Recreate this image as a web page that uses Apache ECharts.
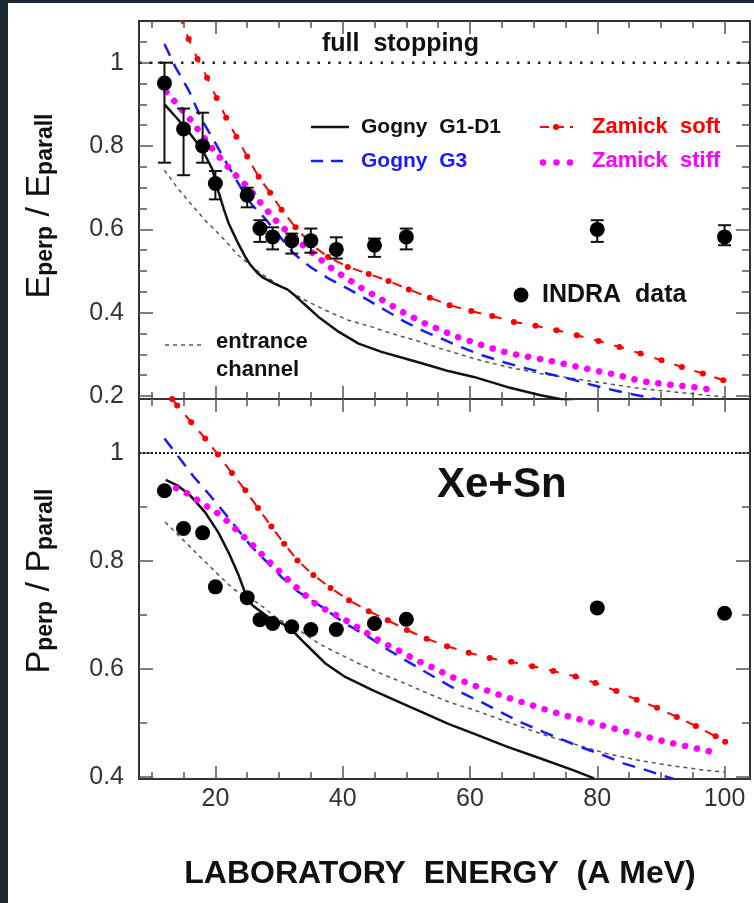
<!DOCTYPE html>
<html>
<head>
<meta charset="utf-8">
<script src="https://cdn.jsdelivr.net/npm/echarts@6/dist/echarts.min.js"></script>
<style>
html,body{margin:0;padding:0;background:#1f2935;width:754px;height:903px;overflow:hidden;}
#chart{position:absolute;left:8px;top:3px;width:746px;height:900px;}
</style>
</head>
<body>
<div id="chart"></div>
<script>
// INDRA data (Xe+Sn)
var energy = [12,15,18,20,25,27,29,32,35,39,45,50,80,100];
var eRatio = [0.951,0.841,0.80,0.71,0.682,0.602,0.582,0.573,0.573,0.552,0.562,0.582,0.60,0.582];
var eLow   = [0.76,0.73,0.76,0.672,0.653,0.57,0.552,0.542,0.544,0.53,0.534,0.552,0.57,0.562];
var eHigh  = [1.0,0.89,0.88,0.74,0.70,0.622,0.605,0.59,0.602,0.581,0.578,0.602,0.622,0.61];
var pRatio = [0.93,0.86,0.852,0.752,0.732,0.691,0.684,0.678,0.673,0.673,0.684,0.692,0.713,0.703];

// E_perp / E_parall curves
var gognyD1E = [[12,0.9],[14,0.866],[16,0.83],[18,0.79],[19.5,0.745],[20.5,0.69],[21.3,0.65],[22.1,0.614],[23.4,0.572],[24.7,0.534],[25.5,0.515],[26.5,0.497],[27.5,0.484],[29.5,0.468],[31.3,0.456],[32.6,0.44],[34.4,0.415],[36.2,0.39],[39.4,0.354],[42.5,0.326],[46.1,0.306],[49.8,0.29],[53.5,0.274],[56.6,0.26],[60.6,0.246],[65.8,0.222],[71.1,0.202],[76.5,0.186]];
var gognyG3E = [[12,1.045],[13.7,0.99],[15.8,0.934],[17.9,0.862],[20,0.807],[22.1,0.75],[24,0.70],[25.7,0.66],[27.8,0.626],[30,0.585],[32.3,0.542],[34.9,0.51],[37.8,0.482],[40.8,0.458],[43.8,0.432],[46.7,0.406],[49.8,0.378],[53,0.354],[55.8,0.336],[58.5,0.318],[61.9,0.298],[65.6,0.28],[68.7,0.267],[72.4,0.253],[75.5,0.242],[78.9,0.228],[82.6,0.214],[85.7,0.204],[89.5,0.192]];
var zamickSoftE = [[14.3,1.115],[15.8,1.057],[17.2,1.009],[18.7,0.964],[20.2,0.915],[21.7,0.868],[23.3,0.822],[25,0.775],[26.8,0.726],[28.6,0.688],[30.4,0.647],[32.6,0.605],[35.2,0.562],[37.7,0.534],[40.8,0.51],[44.1,0.493],[47.2,0.476],[50.4,0.456],[53.7,0.436],[56.8,0.418],[60.2,0.404],[63.5,0.392],[66.9,0.378],[70.3,0.369],[73.6,0.358],[76.8,0.346],[80.2,0.332],[83.5,0.318],[86.8,0.302],[90.1,0.286],[93.3,0.27],[96.6,0.254],[99.8,0.238]];
var zamickStiffE = [[12.3,0.93],[14,0.9],[16,0.865],[17.5,0.835],[19.8,0.788],[22.9,0.734],[25.2,0.70],[27.3,0.66],[29.9,0.614],[32.5,0.578],[35.7,0.538],[38.8,0.5],[40.4,0.485],[43.5,0.454],[45.2,0.44],[48.5,0.41],[50.2,0.395],[53.5,0.37],[55.6,0.358],[57.2,0.346],[60,0.332],[62.7,0.318],[66.4,0.302],[72.1,0.286],[75.8,0.274],[79.4,0.262],[83.4,0.25],[86.8,0.236],[91,0.228],[94.9,0.222],[98.5,0.214]];
var entranceE = [[12,0.742],[14,0.7],[16,0.664],[18.4,0.622],[21,0.582],[23.6,0.538],[26.8,0.498],[30.4,0.462],[34.1,0.43],[37.3,0.406],[40.9,0.382],[44.6,0.366],[47.7,0.35],[51.4,0.334],[55.2,0.315],[60.6,0.29],[65.8,0.27],[71.1,0.254],[76.3,0.242],[81.5,0.23],[86.8,0.218],[92,0.21],[97.2,0.202],[100,0.198]];

// P_perp / P_parall curves
var gognyD1P = [[12.2,0.95],[14,0.94],[16,0.922],[18.4,0.89],[20.5,0.852],[22.1,0.815],[23.6,0.775],[24.7,0.74],[25.8,0.718],[28.3,0.696],[30.5,0.684],[32.2,0.67],[34.1,0.647],[37.3,0.61],[40.4,0.585],[44.6,0.561],[48.8,0.539],[53,0.517],[56.6,0.498],[60.6,0.48],[65.8,0.456],[71.1,0.434],[76.3,0.412],[79.5,0.397]];
var gognyG3P = [[12,1.027],[14.2,0.993],[16.6,0.956],[18.9,0.925],[21.5,0.888],[23.6,0.857],[25.7,0.826],[28.1,0.798],[30.4,0.77],[33,0.743],[36.7,0.715],[40.4,0.684],[44.1,0.659],[47.2,0.635],[50.3,0.613],[53.5,0.591],[56.6,0.57],[59,0.554],[62.2,0.536],[65.3,0.517],[68.4,0.499],[71.6,0.483],[74.7,0.468],[77.9,0.453],[81,0.44],[84.1,0.425],[87.8,0.412],[92,0.396]];
var zamickSoftP = [[13.2,1.1],[14,1.088],[16.2,1.057],[18.4,1.027],[20.4,0.997],[22.6,0.963],[24.7,0.931],[26.7,0.898],[28.8,0.864],[30.8,0.832],[32.9,0.801],[35.4,0.774],[38.1,0.75],[41,0.727],[44.1,0.707],[47.1,0.69],[50.1,0.672],[53.2,0.656],[56.4,0.642],[59.8,0.63],[63.1,0.62],[66.5,0.613],[69.8,0.605],[73.1,0.596],[76.6,0.586],[79.7,0.574],[83,0.559],[86.2,0.543],[89.4,0.528],[92.5,0.511],[95.5,0.494],[98.6,0.475],[100.1,0.465]];
var zamickStiffP = [[13.8,0.935],[16.1,0.922],[17.6,0.909],[19.2,0.897],[20.8,0.885],[22.3,0.869],[23.6,0.854],[25.2,0.837],[26.5,0.822],[27.8,0.806],[29.3,0.789],[30.7,0.774],[32,0.758],[33.6,0.743],[34.9,0.727],[36.5,0.715],[38.3,0.704],[41.4,0.684],[44.8,0.659],[46.4,0.648],[49.8,0.628],[51.4,0.617],[55,0.598],[56.9,0.586],[60.3,0.571],[62.2,0.562],[65.8,0.547],[69.4,0.534],[73.1,0.52],[76.8,0.508],[80.5,0.496],[84.1,0.485],[87.8,0.474],[91.5,0.463],[95.1,0.454],[99.2,0.443]];
var entranceP = [[12.1,0.872],[14.75,0.841],[17.4,0.81],[20,0.78],[22.8,0.748],[26.8,0.721],[29.9,0.692],[33.1,0.672],[36.2,0.647],[39.4,0.628],[42.5,0.61],[46.1,0.591],[49.8,0.573],[53.5,0.554],[56.6,0.539],[60.6,0.524],[65.8,0.502],[71.1,0.48],[76.3,0.461],[81.5,0.443],[86.8,0.43],[92,0.42],[97.2,0.412],[100,0.409]];

var fullStop = [[8,1],[104,1]];

// ticks
var xMajor = [20,40,60,80,100];
var xMinor = [10,15,25,30,35,45,50,55,65,70,75,85,90,95];
var yMajorE = [0.2,0.4,0.6,0.8,1];
var yMinorE = [0.25,0.3,0.35,0.45,0.5,0.55,0.65,0.7,0.75,0.85,0.9,0.95,1.05];
var yMajorP = [0.4,0.6,0.8,1];
var yMinorP = [0.5,0.7,0.9];

var FONT = 'Liberation Sans, Arial, Helvetica, sans-serif';
var ymin = [0.193, 0.396];

function ax(dim, grid, pos, ticks, len, labels){
    return {
        type:'value', gridIndex:grid, position:pos,
        min: dim=='x' ? 8 : ymin[grid],
        max: dim=='x' ? 104 : 1.1,
        axisLine:{show:false},
        splitLine:{show:false},
        axisTick:{show:true, inside:true, length:len, customValues:ticks, lineStyle:{color:'#555', width:1.5}},
        axisLabel:{show:!!labels, customValues:ticks, color:'#333', fontSize:25, fontFamily:FONT,
                   margin: dim=='x' ? 8 : 15}
    };
}

var xAxes = [], yAxes = [];
for(var g=0; g<2; g++){
    xAxes.push(ax('x', g, 'bottom', xMajor, 13, g==1));
    xAxes.push(ax('x', g, 'bottom', xMinor, 7, false));
    xAxes.push(ax('x', g, 'top', xMajor, 13, false));
    xAxes.push(ax('x', g, 'top', xMinor, 7, false));
    yAxes.push(ax('y', g, 'left', g==0 ? yMajorE : yMajorP, 14, true));
    yAxes.push(ax('y', g, 'left', g==0 ? yMinorE : yMinorP, 8, false));
    yAxes.push(ax('y', g, 'right', g==0 ? yMajorE : yMajorP, 14, false));
    yAxes.push(ax('y', g, 'right', g==0 ? yMinorE : yMinorP, 8, false));
}

function line(grid, data, color, width, type, z){
    return {
        type:'line', xAxisIndex:grid*4, yAxisIndex:grid*4, data:data,
        showSymbol:false, symbol:'none', z:z||2, silent:true,
        lineStyle:{color:color, width:width, type:type}
    };
}
function redLine(grid, data){
    var s = line(grid, data, '#ff0000', 2, [10,11], 3);
    s.symbol = 'circle'; s.showSymbol = true; s.showAllSymbol = true; s.symbolSize = 6;
    s.itemStyle = {color:'#ff0000'};
    return s;
}
function dotLine(grid, data){
    var s = line(grid, data, '#ff00ff', 6.5, [0.1,12], 3);
    s.lineStyle.cap = 'round';
    return s;
}
function points(grid, y){
    return {
        type:'scatter', xAxisIndex:grid*4, yAxisIndex:grid*4, symbolSize:15, z:6, silent:true,
        itemStyle:{color:'#000', opacity:1},
        data: energy.map(function(x,i){ return [x, y[i]]; })
    };
}

var errBars = {
    type:'custom', xAxisIndex:0, yAxisIndex:0, z:5, silent:true,
    data: energy.map(function(x,i){ return [x, eLow[i], eHigh[i]]; }),
    encode:{x:0, y:[1,2]},
    renderItem:function(params, api){
        var lo = api.coord([api.value(0), api.value(1)]);
        var hi = api.coord([api.value(0), api.value(2)]);
        var w = 6.5;
        var st = {stroke:'#111', lineWidth:2};
        return {type:'group', children:[
            {type:'line', shape:{x1:lo[0], y1:lo[1], x2:hi[0], y2:hi[1]}, style:st},
            {type:'line', shape:{x1:lo[0]-w, y1:lo[1], x2:lo[0]+w, y2:lo[1]}, style:st},
            {type:'line', shape:{x1:hi[0]-w, y1:hi[1], x2:hi[0]+w, y2:hi[1]}, style:st}
        ]};
    }
};

var series = [
    line(0, fullStop, '#222', 2.5, [2.5,8], 1),
    line(0, entranceE, '#555', 1.5, [4,4]),
    line(0, gognyD1E, '#111', 2.5, 'solid'),
    line(0, gognyG3E, '#1a1aff', 2.5, [13,9]),
    dotLine(0, zamickStiffE),
    redLine(0, zamickSoftE),
    errBars,
    points(0, eRatio),

    line(1, fullStop, '#222', 2, [2,2], 1),
    line(1, entranceP, '#555', 1.5, [4,4]),
    line(1, gognyD1P, '#111', 2.5, 'solid'),
    line(1, gognyG3P, '#1a1aff', 2.5, [13,9]),
    dotLine(1, zamickStiffP),
    redLine(1, zamickSoftP),
    points(1, pRatio)
];

function txt(x, y, text, size, color, align){
    return {type:'text', x:x, y:y, silent:true, z:20,
        style:{text:text, fill:color||'#000', font:'bold '+size+'px '+FONT,
               textAlign:align||'left', textVerticalAlign:'middle'}};
}
function seg(x1, y1, x2, y2, color, width, dash){
    return {type:'line', silent:true, z:20, shape:{x1:x1,y1:y1,x2:x2,y2:y2},
        style:{stroke:color, lineWidth:width, lineDash:dash||null}};
}
function dot(x, y, r, color){
    return {type:'circle', silent:true, z:20, shape:{cx:x, cy:y, r:r}, style:{fill:color}};
}
function yTitle(x, y, main){
    return {type:'text', x:x, y:y, rotation:Math.PI/2, silent:true, z:20,
        style:{
            text:'{m|'+main+'}{s|perp}{m| / '+main+'}{s|parall}',
            textAlign:'center', textVerticalAlign:'middle', fill:'#111',
            rich:{
                m:{fontSize:34, fontFamily:FONT, lineHeight:40, verticalAlign:'bottom', fill:'#111'},
                s:{fontSize:23, fontWeight:'bold', fontFamily:FONT, lineHeight:26, verticalAlign:'bottom', fill:'#111'}
            }
        }};
}

var graphics = [
    txt(314, 41, 'full  stopping', 25, '#111'),
    seg(303, 124, 341, 124, '#111', 2.5),
    txt(353, 124, 'Gogny  G1-D1', 21, '#111'),
    seg(303, 158, 341, 158, '#1a1aff', 2.5, [12,8]),
    txt(353, 158, 'Gogny  G3', 21, '#1a1aff'),
    seg(532, 124, 565, 124, '#ff0000', 2, [9,6]),
    dot(548, 124, 3, '#ff0000'),
    txt(584, 124, 'Zamick  soft', 22, '#ff0000'),
    dot(535, 159.5, 3.2, '#ff00ff'),
    dot(548.5, 159.5, 3.2, '#ff00ff'),
    dot(562, 159.5, 3.2, '#ff00ff'),
    txt(584, 158, 'Zamick  stiff', 22, '#ff00ff'),
    dot(513, 292, 7.5, '#000'),
    txt(534, 292, 'INDRA  data', 25, '#111'),
    seg(157, 342, 193, 342, '#555', 1.5, [4,4]),
    txt(208, 339, 'entrance', 22, '#111'),
    txt(208, 367, 'channel', 22, '#111'),
    txt(429, 482, 'Xe+Sn', 42, '#111'),
    txt(432, 871, 'LABORATORY  ENERGY  (A MeV)', 32, '#111', 'center'),
    yTitle(29, 203, 'E'),
    yTitle(29, 578, 'P')
];

var chart = echarts.init(document.getElementById('chart'));
chart.setOption({
    animation:false,
    backgroundColor:'#ffffff',
    grid:[
        {left:131, right:4, top:18, height:378, show:true, borderColor:'#333', borderWidth:2, backgroundColor:'transparent'},
        {left:131, right:4, top:396, height:380, show:true, borderColor:'#333', borderWidth:2, backgroundColor:'transparent'}
    ],
    xAxis:xAxes,
    yAxis:yAxes,
    series:series,
    graphic:graphics
});
</script>
</body>
</html>
